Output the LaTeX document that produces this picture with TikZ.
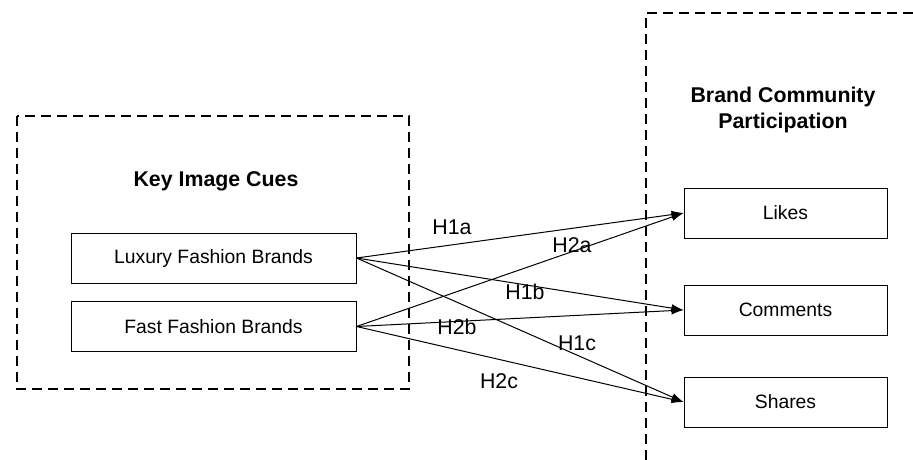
\documentclass[tikz,border=0pt]{standalone}
\usepackage{fontspec}
\setmainfont{Liberation Sans}
\usetikzlibrary{arrows.meta}

\tikzset{every picture/.style={line width=0.75pt}}
\tikzset{
  frame/.style={line width=1.1pt, dash pattern=on 7.5pt off 4.5pt},
  cuebox/.style={draw, minimum width=213.75pt, minimum height=37.5pt, inner sep=0pt, font=\fontsize{14.5}{16}\selectfont},
  dvbox/.style={draw, minimum width=152.25pt, minimum height=37.5pt, inner sep=0pt, font=\fontsize{14.5}{16}\selectfont},
  hlabel/.style={inner sep=0.75pt, font=\fontsize{16}{18}\selectfont},
  link/.style={-{Latex[length=9pt,width=6pt]}, line width=0.75pt}
}

\begin{document}
\begin{tikzpicture}[x=0.75pt,y=0.75pt,yscale=-1,xscale=1]
\useasboundingbox (0,0) rectangle (913,460);

%Shape: Rectangle [id:left frame]
\draw[frame] (17,116) rectangle (409,389);
%Shape: Open frame [id:right frame]
\draw[frame] (913,13) -- (646,13) -- (646,460);

% Text Node
\node[font=\fontsize{16}{19}\selectfont\bfseries] (cues) at (216,181) {Key Image Cues};
% Text Node
\node[font=\fontsize{16}{20}\selectfont\bfseries, align=center] (bcp) at (783,110) {Brand Community\\Participation};

% Boxes
\node[cuebox] (lux) at (213.5,258) {Luxury Fashion Brands};
\node[cuebox] (fast) at (213.5,326.5) {Fast Fashion Brands};
\node[dvbox] (likes) at (785.5,213) {Likes};
\node[dvbox] (comments) at (785.5,310) {Comments};
\node[dvbox] (shares) at (785.5,402) {Shares};

% Arrows
\draw[link] (lux.east) -- (likes.west);
\draw[link] (lux.east) -- (comments.west);
\draw[link] (lux.east) -- (shares.west);
\draw[link] (fast.east) -- (likes.west);
\draw[link] (fast.east) -- (comments.west);
\draw[link] (fast.east) -- (shares.west);

% Text Node
\node[hlabel] (h1a) at (452,227) {H1a};
\node[hlabel] (h2a) at (572,245) {H2a};
\node[hlabel] (h1b) at (525,292) {H1b};
\node[hlabel] (h2b) at (457,327) {H2b};
\node[hlabel] (h1c) at (577,343) {H1c};
\node[hlabel] (h2c) at (499,381) {H2c};

\end{tikzpicture}
\end{document}
